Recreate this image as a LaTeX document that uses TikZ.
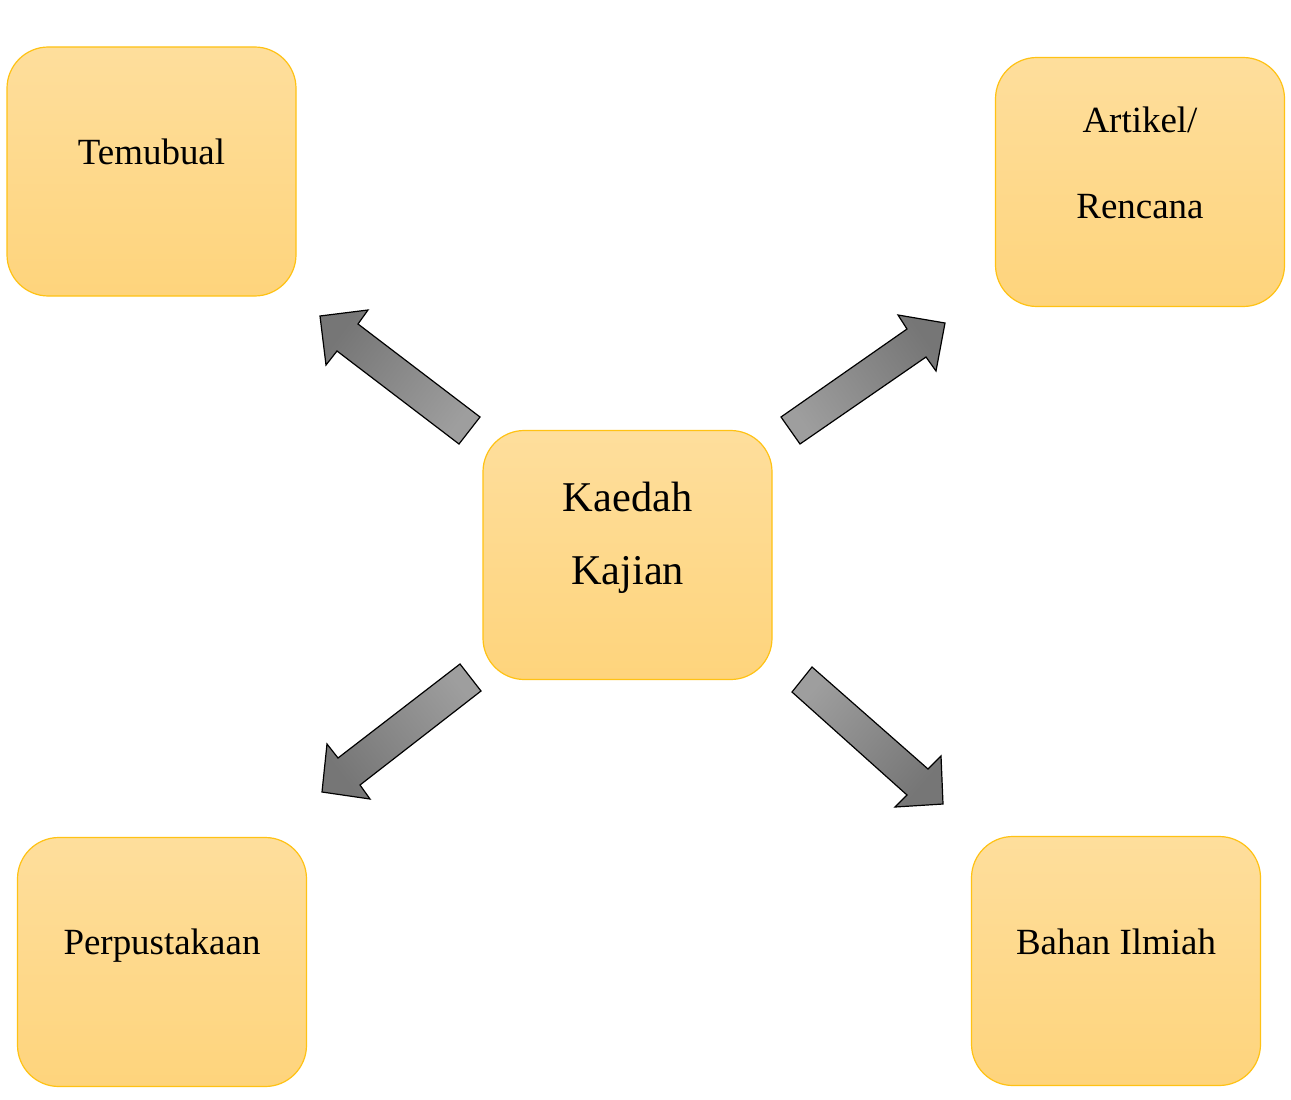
\documentclass[tikz,border=0pt]{standalone}
\usepackage{fontspec}
\setmainfont{Liberation Serif}
\begin{document}
\begin{tikzpicture}[x=0.75pt,y=-0.75pt,
  box/.style={draw={rgb,255:red,255;green,194;blue,20}, line width=0.9pt,
    rounded corners=31pt,
    top color={rgb,255:red,254;green,222;blue,156},
    bottom color={rgb,255:red,254;green,212;blue,124},
    minimum width=216.75pt, minimum height=186.75pt, inner sep=0pt},
  lbl/.style={anchor=base, inner sep=0pt, font=\fontsize{27.7}{33}\selectfont},
  biglbl/.style={anchor=base, inner sep=0pt, font=\fontsize{31.8}{38}\selectfont},
  blockarrow/.style={draw=black, line width=0.9pt, line join=miter,
    top color={rgb,255:red,118;green,118;blue,118},
    bottom color={rgb,255:red,158;green,158;blue,158}}]
\useasboundingbox (0,0) rectangle (1291,1099);
\fill[white] (0,0) rectangle (1291,1099);

% boxes
\node[box] (tem) at (151.5,171.5) {};
\node[box] (art) at (1140,182) {};
\node[box] (kae) at (627.5,555) {};
\node[box] (per) at (162,962) {};
\node[box] (bah) at (1116,961) {};

% labels
\node[lbl] (temT) at (151.5,164) {Temubual};
\node[lbl] (artT1) at (1140,132) {Artikel/};
\node[lbl] (artT2) at (1140,218) {Rencana};
\node[biglbl] (kaeT1) at (627.5,511) {Kaedah};
\node[biglbl] (kaeT2) at (627.5,584) {Kajian};
\node[lbl] (perT) at (162,954) {Perpustakaan};
\node[lbl] (bahT) at (1116,954) {Bahan Ilmiah};

% block arrows
\path[blockarrow, shading angle=53]
  (459,444) -- (480,417) -- (358,324) -- (368,310) -- (320,316)
  -- (326,365) -- (337,351) -- cycle;
\path[blockarrow, shading angle=-55]
  (781,417) -- (800,444) -- (926,357) -- (936,371) -- (945,323)
  -- (898,315) -- (907,329) -- cycle;
\path[blockarrow, shading angle=128]
  (460,664) -- (481,691) -- (360,785) -- (370,799) -- (322,792)
  -- (327,744) -- (338,758) -- cycle;
\path[blockarrow, shading angle=-131]
  (792,692) -- (812,667) -- (928,769) -- (941,756) -- (943,804)
  -- (895,807) -- (907,795) -- cycle;
\end{tikzpicture}
\end{document}
